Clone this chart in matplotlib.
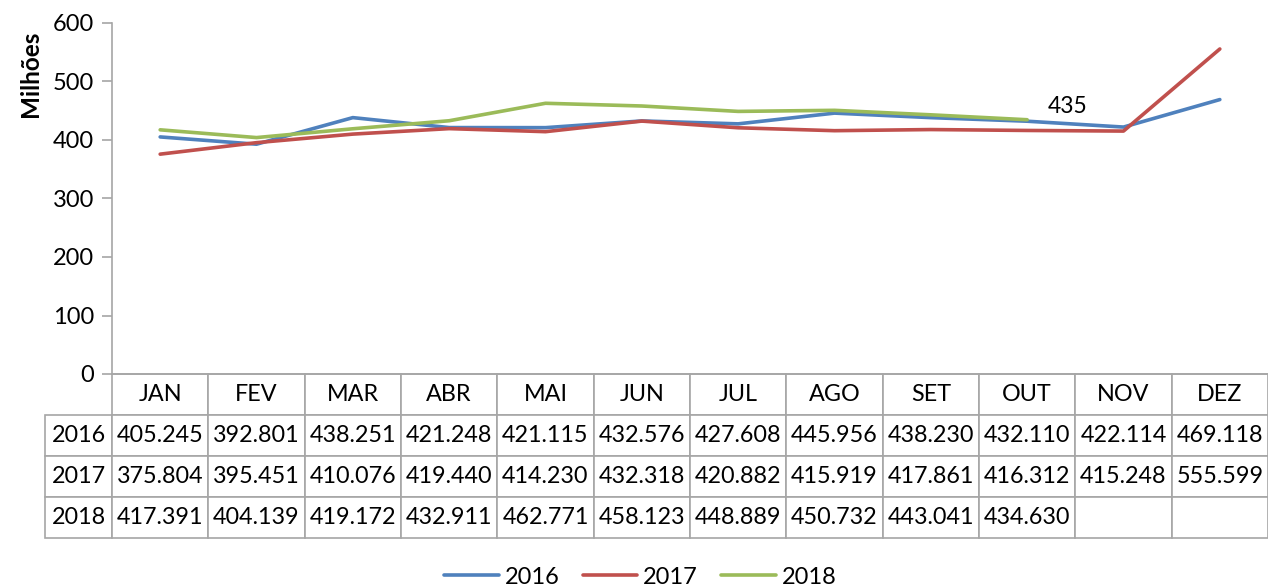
import matplotlib.pyplot as plt

plt.rcParams['font.family'] = ['Lato', 'DejaVu Sans']

months = ['JAN', 'FEV', 'MAR', 'ABR', 'MAI', 'JUN', 'JUL', 'AGO', 'SET', 'OUT', 'NOV', 'DEZ']
years = ['2016', '2017', '2018']
v2016 = [405.245, 392.801, 438.251, 421.248, 421.115, 432.576, 427.608, 445.956, 438.230, 432.110, 422.114, 469.118]
v2017 = [375.804, 395.451, 410.076, 419.440, 414.230, 432.318, 420.882, 415.919, 417.861, 416.312, 415.248, 555.599]
v2018 = [417.391, 404.139, 419.172, 432.911, 462.771, 458.123, 448.889, 450.732, 443.041, 434.630]
colors = ['#4F81BD', '#C0504D', '#9BBB59']

W, H = 1268, 586
fig = plt.figure(figsize=(W / 100, H / 100), dpi=100)
ax = fig.add_axes([112 / W, 1 - 374 / H, 1156 / W, 351 / H])

for vals, yr, c in zip([v2016, v2017, v2018], years, colors):
    ax.plot(range(len(vals)), vals, color=c, lw=2.6, label=yr, solid_capstyle='round')

ax.annotate('435', xy=(9, v2018[9]), xytext=(40, 13), textcoords='offset pixels',
            ha='center', va='center', fontsize=16.5)

ax.set_xlim(-0.5, 11.5)
ax.set_ylim(0, 600)
ax.set_yticks(range(0, 601, 100))
ax.set_xticks([])
for s in ['top', 'right']:
    ax.spines[s].set_visible(False)
for s in ['left', 'bottom']:
    ax.spines[s].set_color('#A6A6A6')
    ax.spines[s].set_linewidth(1.2)
ax.tick_params(axis='y', length=7, color='#A6A6A6', width=1.2, labelsize=17, pad=6)

fig.text(30 / W, 1 - 74 / H, 'Milhões', rotation=90, fontsize=17.5, fontweight='bold',
         ha='center', va='center')

# data table under the plot
rows = [[''] + months]
for yr, vals in zip(years, [v2016, v2017, v2018]):
    rows.append([yr] + ['%.3f' % v for v in vals] + [''] * (12 - len(vals)))
lab_w = 67
col_w = 1156 / 12
tb = ax.table(cellText=rows, colWidths=[lab_w] + [col_w] * 12, cellLoc='center',
              bbox=[-lab_w / 1156, -(538 - 374) / 351, (1156 + lab_w) / 1156, (538 - 374) / 351])
tb.auto_set_font_size(False)
for (r, c), cell in tb.get_celld().items():
    cell.set_fontsize(16.8)
    cell.set_edgecolor('#A6A6A6')
    cell.set_linewidth(1.2)
    cell.PAD = 0.02
    if r == 0 and c == 0:
        cell.visible_edges = ''

fig.legend(loc='center', bbox_to_anchor=(0.505, 1 - 577 / H), ncol=3, frameon=False,
           fontsize=17, handlelength=2.3, handletextpad=0.25, columnspacing=1.0)

fig.savefig('out.png', dpi=100)
